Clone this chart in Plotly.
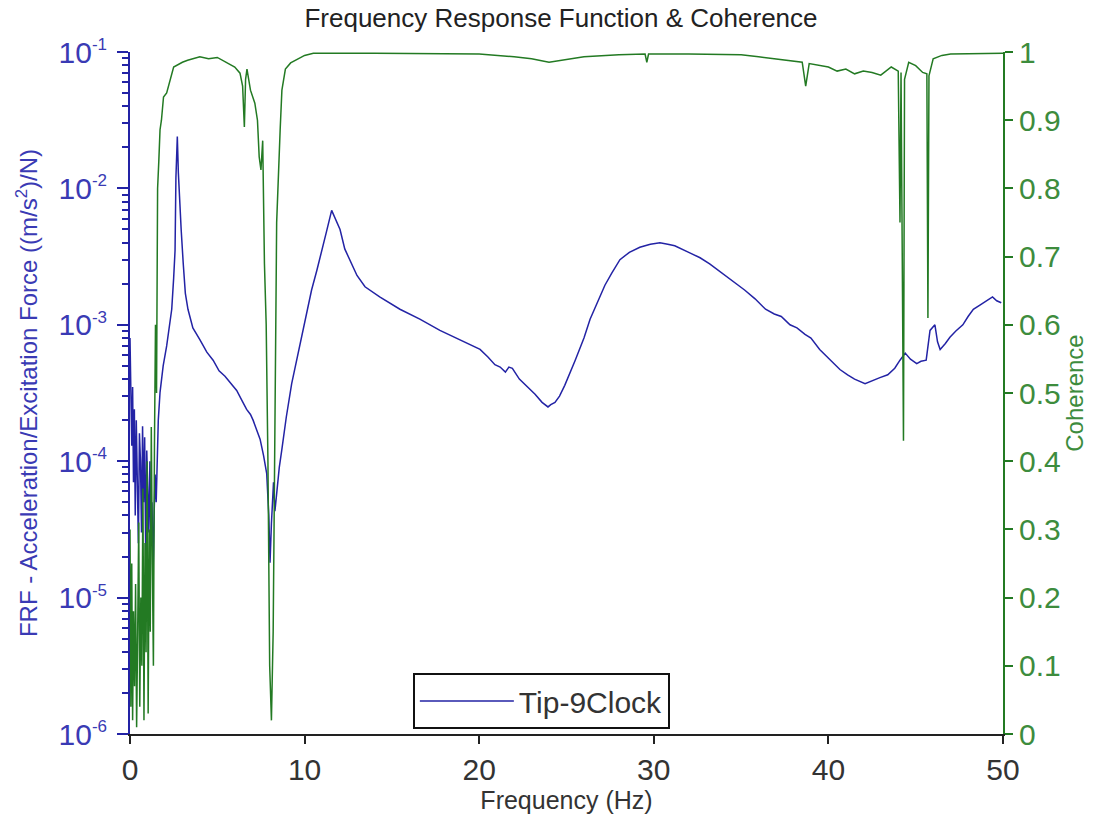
import plotly.graph_objects as go

# ---------------- data ----------------
frf_freq = [0.00, 0.05, 0.10, 0.15, 0.20, 0.25, 0.30, 0.36, 0.42, 0.48, 0.54, 0.60, 0.66, 0.72,
            0.78, 0.84, 0.90, 0.96, 1.02, 1.08, 1.14, 1.20, 1.26, 1.32, 1.38, 1.44, 1.50, 1.56,
            1.62, 1.72, 1.90, 2.10, 2.25, 2.39, 2.50, 2.58, 2.63, 2.71, 2.77, 2.83, 2.93, 3.05,
            3.17, 3.32, 3.60, 4.00, 4.40, 4.76, 5.10, 5.44, 5.80, 6.11, 6.40, 6.68, 6.90, 7.05,
            7.25, 7.45, 7.65, 7.83, 7.95, 8.02, 8.10, 8.22, 8.30, 8.40, 8.55, 8.69, 8.95, 9.26,
            9.55, 9.83, 10.1, 10.4, 10.7, 10.98, 11.25, 11.55, 11.75, 12.03, 12.3, 12.6, 13.0,
            13.46, 14.3, 15.46, 16.6, 17.75, 18.9, 20.05, 20.5, 20.9, 21.2, 21.5, 21.7, 21.9,
            22.3, 22.8, 23.2, 23.6, 23.94, 24.1, 24.34, 24.6, 24.9, 25.5, 26.0, 26.35, 26.8,
            27.2, 27.6, 28.06, 28.6, 29.2, 29.8, 30.35, 30.8, 31.2, 32.0, 32.65, 33.2, 33.8,
            34.5, 35.2, 35.8, 36.4, 36.9, 37.3, 37.8, 38.2, 38.66, 39.0, 39.5, 40.0, 40.66,
            41.1, 41.5, 42.1, 42.5, 42.95, 43.4, 43.8, 44.1, 44.4, 44.7, 45.06, 45.3, 45.6,
            45.82, 46.1, 46.25, 46.4, 46.7, 46.96, 47.3, 47.7, 48.0, 48.3, 48.7, 49.07, 49.4,
            49.64, 49.9]
frf_vals = [8.0e-4, 3.0e-4, 1.3e-4, 3.5e-4, 7.0e-5, 2.4e-4, 4.0e-5, 2.0e-4, 8.0e-5, 2.5e-5,
            1.6e-4, 1.0e-4, 3.0e-5, 1.8e-4, 5.0e-5, 1.5e-4, 2.0e-5, 1.2e-4, 6.0e-5, 3.0e-5,
            1.0e-4, 2.5e-5, 5.0e-5, 1.5e-5, 4.0e-5, 8.0e-5, 5.0e-5, 1.2e-4, 2.0e-4, 3.2e-4,
            5.0e-4, 7.0e-4, 1.0e-3, 1.3e-3, 2.2e-3, 3.5e-3, 1.2e-2, 2.4e-2, 1.3e-2, 9.8e-3,
            5.0e-3, 2.8e-3, 1.7e-3, 1.3e-3, 9.5e-4, 7.8e-4, 6.3e-4, 5.5e-4, 4.6e-4, 4.2e-4,
            3.7e-4, 3.3e-4, 2.8e-4, 2.4e-4, 2.2e-4, 2.0e-4, 1.7e-4, 1.45e-4, 1.1e-4, 8.1e-5,
            4.0e-5, 1.8e-5, 3.5e-5, 7.0e-5, 4.3e-5, 6.0e-5, 9.0e-5, 1.2e-4, 2.1e-4, 3.7e-4,
            5.6e-4, 8.1e-4, 1.2e-3, 1.8e-3, 2.5e-3, 3.4e-3, 4.8e-3, 6.9e-3, 6.0e-3, 5.0e-3,
            3.6e-3, 3.0e-3, 2.3e-3, 1.9e-3, 1.6e-3, 1.3e-3, 1.1e-3, 9.1e-4, 7.8e-4, 6.6e-4,
            5.8e-4, 5.1e-4, 4.9e-4, 4.5e-4, 4.9e-4, 4.8e-4, 4.0e-4, 3.5e-4, 3.1e-4, 2.7e-4,
            2.5e-4, 2.6e-4, 2.7e-4, 3.0e-4, 3.6e-4, 5.5e-4, 8.0e-4, 1.1e-3, 1.5e-3, 1.95e-3,
            2.4e-3, 3.0e-3, 3.4e-3, 3.7e-3, 3.9e-3, 4.0e-3, 3.9e-3, 3.8e-3, 3.4e-3, 3.1e-3,
            2.8e-3, 2.45e-3, 2.1e-3, 1.8e-3, 1.55e-3, 1.3e-3, 1.2e-3, 1.15e-3, 1.0e-3, 9.5e-4,
            8.5e-4, 8.0e-4, 6.6e-4, 5.7e-4, 4.7e-4, 4.3e-4, 4.0e-4, 3.7e-4, 3.9e-4, 4.1e-4,
            4.3e-4, 4.8e-4, 5.5e-4, 6.2e-4, 5.6e-4, 5.2e-4, 5.4e-4, 5.5e-4, 9.1e-4, 1.0e-3,
            7.5e-4, 6.6e-4, 7.3e-4, 8.1e-4, 9.0e-4, 1.0e-3, 1.15e-3, 1.3e-3, 1.4e-3, 1.5e-3,
            1.6e-3, 1.5e-3, 1.45e-3]

coh_freq = [0.00, 0.05, 0.10, 0.15, 0.20, 0.26, 0.32, 0.38, 0.44, 0.50, 0.56, 0.62, 0.68, 0.74,
            0.80, 0.86, 0.92, 0.98, 1.04, 1.10, 1.16, 1.22, 1.28, 1.34, 1.40, 1.46, 1.52, 1.58,
            1.65, 1.72, 1.80, 1.92, 2.10, 2.30, 2.50, 3.00, 3.30, 4.00, 4.50, 5.00, 5.50, 6.00,
            6.30, 6.45, 6.55, 6.62, 6.70, 6.90, 7.15, 7.30, 7.40, 7.50, 7.60, 7.70, 7.80, 7.90,
            8.00, 8.10, 8.20, 8.30, 8.40, 8.60, 8.70, 8.90, 9.20, 10.0, 10.5, 14.0, 18.0, 20.0,
            22.0, 23.0, 24.0, 24.5, 25.0, 26.0, 28.0, 29.5, 29.6, 29.7, 32.0, 35.0, 36.0, 37.0,
            38.5, 38.7, 38.9, 40.0, 40.5, 41.0, 41.5, 42.0, 42.5, 43.0, 43.6, 44.0, 44.1, 44.16,
            44.3, 44.36, 44.6, 45.0, 45.4, 45.64, 45.7, 45.76, 46.0, 46.5, 47.0, 50.0]
coh_vals = [0.30, 0.04, 0.25, 0.02, 0.18, 0.07, 0.22, 0.01, 0.15, 0.31, 0.04, 0.20, 0.10, 0.36,
            0.02, 0.28, 0.12, 0.40, 0.03, 0.30, 0.15, 0.45, 0.25, 0.10, 0.42, 0.60, 0.50, 0.80,
            0.84, 0.886, 0.90, 0.934, 0.94, 0.959, 0.978, 0.985, 0.988, 0.993, 0.990, 0.992,
            0.985, 0.978, 0.969, 0.95, 0.89, 0.96, 0.975, 0.944, 0.925, 0.90, 0.846, 0.827,
            0.87, 0.69, 0.60, 0.40, 0.10, 0.02, 0.15, 0.40, 0.75, 0.886, 0.944, 0.975, 0.984,
            0.995, 0.998, 0.998, 0.997, 0.997, 0.993, 0.99, 0.985, 0.987, 0.99, 0.993, 0.996,
            0.997, 0.985, 0.997, 0.997, 0.996, 0.993, 0.99, 0.985, 0.95, 0.983, 0.978, 0.972,
            0.975, 0.968, 0.972, 0.97, 0.966, 0.978, 0.972, 0.75, 0.97, 0.43, 0.96, 0.985,
            0.98, 0.97, 0.968, 0.61, 0.965, 0.99, 0.995, 0.997, 0.998]

x_ticks = [0, 10, 20, 30, 40, 50]
y_ticks = [1e-6, 1e-5, 1e-4, 1e-3, 1e-2, 1e-1]
y_tick_text = ["10<sup><span style='font-size:17px'>-6</span></sup>",
               "10<sup><span style='font-size:17px'>-5</span></sup>",
               "10<sup><span style='font-size:17px'>-4</span></sup>",
               "10<sup><span style='font-size:17px'>-3</span></sup>",
               "10<sup><span style='font-size:17px'>-2</span></sup>",
               "10<sup><span style='font-size:17px'>-1</span></sup>"]
legend_name = "Tip-9Clock"

BLUE = "#2323a5"
BLUE_TXT = "#3a3ab4"
GREEN = "#237a23"
GREEN_TXT = "#3d8c3d"
FONT = "Liberation Sans, Arial, sans-serif"

fig = go.Figure()
fig.add_trace(go.Scatter(x=frf_freq, y=frf_vals, mode="lines", name=legend_name,
                         line=dict(color=BLUE, width=1.5), yaxis="y"))
fig.add_trace(go.Scatter(x=coh_freq, y=coh_vals, mode="lines", name="Coherence",
                         line=dict(color=GREEN, width=1.5), yaxis="y2", showlegend=False))

fig.update_layout(
    width=1093, height=824,
    margin=dict(l=130, r=90, t=52, b=90),
    paper_bgcolor="white", plot_bgcolor="white",
    font=dict(family=FONT, color="#333333"),
    title=dict(text="Frequency Response Function & Coherence", x=0.4937, xref="paper",
               xanchor="center", y=1 - 18 / 824, yref="container", yanchor="middle",
               font=dict(size=26, color="#222222")),
    xaxis=dict(range=[0, 50], tickvals=x_ticks, ticks="outside", ticklen=8, tickwidth=2,
               tickcolor="#222222", showline=True, linecolor="#222222", linewidth=2,
               showgrid=False, zeroline=False, tickfont=dict(size=30, color="#333333"),
               automargin=False,
               title=dict(text="Frequency (Hz)", font=dict(size=25, color="#333333"), standoff=4)),
    yaxis=dict(type="log", range=[-6, -1], tickmode="array", tickvals=y_ticks, ticktext=y_tick_text,
               ticks="outside", ticklen=11, tickwidth=2, tickcolor=BLUE,
               minor=dict(ticks="outside", ticklen=6, tickwidth=1.5, tickcolor=BLUE, dtick="D1",
                          showgrid=False),
               showline=True, linecolor=BLUE, linewidth=2, showgrid=False, zeroline=False,
               tickfont=dict(size=30, color=BLUE_TXT), ticklabelstandoff=4, automargin=False,
               title=dict(text="FRF - Acceleration/Excitation Force ((m/s<sup>2</sup>)/N)",
                          font=dict(size=24, color=BLUE_TXT), standoff=14)),
    yaxis2=dict(overlaying="y", side="right", range=[0, 1], dtick=0.1,
                ticks="outside", ticklen=8, tickwidth=2, tickcolor=GREEN,
                showline=True, linecolor=GREEN, linewidth=2, showgrid=False, zeroline=False,
                tickfont=dict(size=30, color=GREEN_TXT), automargin=False,
                title=dict(text="Coherence", font=dict(size=24, color=GREEN_TXT), standoff=6)),
    legend=dict(x=0.324, y=0.0894, xanchor="left", yanchor="top", bgcolor="white",
                bordercolor="#111111", borderwidth=2, font=dict(size=30, color="#333333"),
                itemwidth=94),
    showlegend=True,
)

fig.write_html("out.html", config={"displayModeBar": False},
               post_script="document.body.style.margin='0';"
               "document.body.style.padding='0';")
